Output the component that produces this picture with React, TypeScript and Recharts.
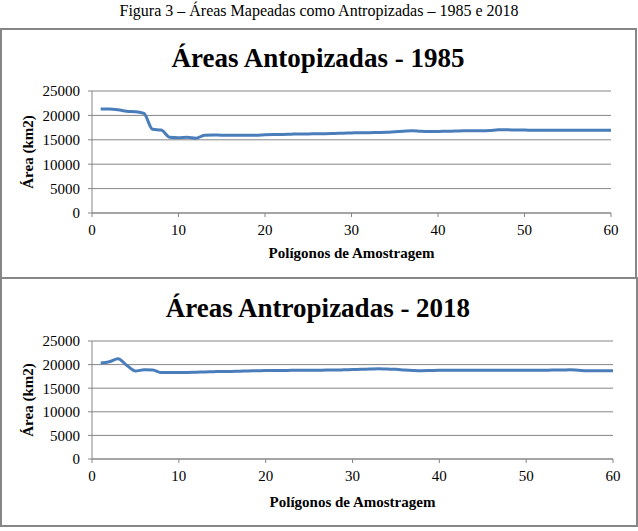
import { LineChart, Line, XAxis, YAxis, CartesianGrid, Label } from 'recharts'

// Polígonos de Amostragem 1..60
const poligonos = Array.from({ length: 60 }, (_, i) => i + 1)

const area1985 = [
  21300, 21300, 21150, 20850, 20750, 20400, 17150, 17000, 15500, 15400,
  15500, 15300, 15950, 16000, 15950, 15950, 15950, 15950, 15950, 16050,
  16100, 16100, 16150, 16200, 16200, 16250, 16250, 16300, 16350, 16400,
  16450, 16450, 16500, 16550, 16650, 16750, 16850, 16750, 16700, 16700,
  16750, 16800, 16850, 16850, 16850, 16900, 17050, 17050, 17000, 17000,
  16950, 16950, 16950, 16950, 16950, 16950, 16950, 16950, 16950, 16950,
]

const area2018 = [
  20350, 20600, 21250, 19850, 18650, 18900, 18850, 18300, 18300, 18350,
  18350, 18400, 18450, 18500, 18550, 18550, 18600, 18650, 18700, 18750,
  18750, 18750, 18800, 18800, 18800, 18800, 18850, 18850, 18900, 18950,
  19000, 19050, 19100, 19050, 19000, 18850, 18750, 18700, 18750, 18800,
  18800, 18800, 18800, 18800, 18800, 18800, 18800, 18800, 18800, 18800,
  18800, 18800, 18850, 18850, 18900, 18800, 18700, 18700, 18700, 18700,
]

const xTicks = [0, 10, 20, 30, 40, 50, 60]
const yTicks = [0, 5000, 10000, 15000, 20000, 25000]

const SERIF = 'Liberation Serif'
const GRAY = '#868686'
const BLUE = '#4a7ebb'

const YLabel = ({ viewBox }: any) => {
  const cx = viewBox.x + 16
  const cy = viewBox.y + viewBox.height / 2
  return (
    <text
      x={cx}
      y={cy}
      transform={`rotate(-90 ${cx} ${cy})`}
      textAnchor="middle"
      dominantBaseline="central"
      fontFamily={SERIF}
      fontWeight="bold"
      fontSize={15}
      fill="#000"
    >
      Área (km2)
    </text>
  )
}

function AreaChartPanel({
  values,
  width,
  height,
  margin,
  xAxisHeight,
}: {
  values: number[]
  width: number
  height: number
  margin: { top: number; right: number; left: number; bottom: number }
  xAxisHeight: number
}) {
  const data = poligonos.map((p, i) => ({ p, area: values[i] }))
  return (
    <LineChart width={width} height={height} data={data} margin={margin}>
      <CartesianGrid vertical={false} stroke={GRAY} strokeWidth={1} />
      <XAxis
        dataKey="p"
        type="number"
        domain={[0, 60]}
        ticks={xTicks}
        stroke={GRAY}
        tickSize={4}
        tickMargin={7}
        height={xAxisHeight}
        tick={{ fontSize: 15, fill: '#000', fontFamily: SERIF }}
      >
        <Label
          value="Polígonos de Amostragem"
          position="insideBottom"
          offset={0}
          fontFamily={SERIF}
          fontWeight="bold"
          fontSize={15}
          fill="#000"
        />
      </XAxis>
      <YAxis
        domain={[0, 25000]}
        ticks={yTicks}
        stroke={GRAY}
        tickSize={4}
        tickMargin={8}
        width={80}
        tick={{ fontSize: 15, fill: '#000', fontFamily: SERIF }}
        label={<YLabel />}
      />
      <Line
        type="monotone"
        dataKey="area"
        stroke={BLUE}
        strokeWidth={3}
        dot={false}
        isAnimationActive={false}
      />
    </LineChart>
  )
}

const titleStyle: React.CSSProperties = {
  position: 'absolute',
  left: 0,
  width: 636,
  textAlign: 'center',
  fontFamily: SERIF,
  fontWeight: 'bold',
  fontSize: 27,
  lineHeight: '30px',
  color: '#000',
}

export default function App() {
  return (
    <div
      style={{
        position: 'absolute',
        left: 0,
        top: 0,
        width: 638,
        height: 531,
        background: '#fff',
        fontFamily: SERIF,
        overflow: 'hidden',
      }}
    >
      <div
        style={{
          position: 'absolute',
          left: 0,
          top: 2,
          width: 638,
          textAlign: 'center',
          fontSize: 16,
          lineHeight: '18px',
          color: '#000',
        }}
      >
        Figura 3 – Áreas Mapeadas como Antropizadas – 1985 e 2018
      </div>

      <div
        style={{
          position: 'absolute',
          left: 0,
          top: 28,
          width: 637,
          height: 251,
          border: `2px solid ${GRAY}`,
          boxSizing: 'border-box',
        }}
      />
      <div
        style={{
          position: 'absolute',
          left: 0,
          top: 277,
          width: 638,
          height: 250,
          border: `2px solid ${GRAY}`,
          boxSizing: 'border-box',
        }}
      />

      <div style={{ ...titleStyle, top: 43 }}>Áreas Antopizadas - 1985</div>
      <div style={{ ...titleStyle, top: 293 }}>Áreas Antropizadas - 2018</div>

      <div style={{ position: 'absolute', left: 0, top: 29 }}>
        <AreaChartPanel
          values={area1985}
          width={636}
          height={249}
          margin={{ top: 62, right: 25, left: 12, bottom: 20 }}
          xAxisHeight={45}
        />
      </div>
      <div style={{ position: 'absolute', left: 0, top: 279 }}>
        <AreaChartPanel
          values={area2018}
          width={637}
          height={247}
          margin={{ top: 62, right: 24, left: 12, bottom: 19 }}
          xAxisHeight={48}
        />
      </div>
    </div>
  )
}
